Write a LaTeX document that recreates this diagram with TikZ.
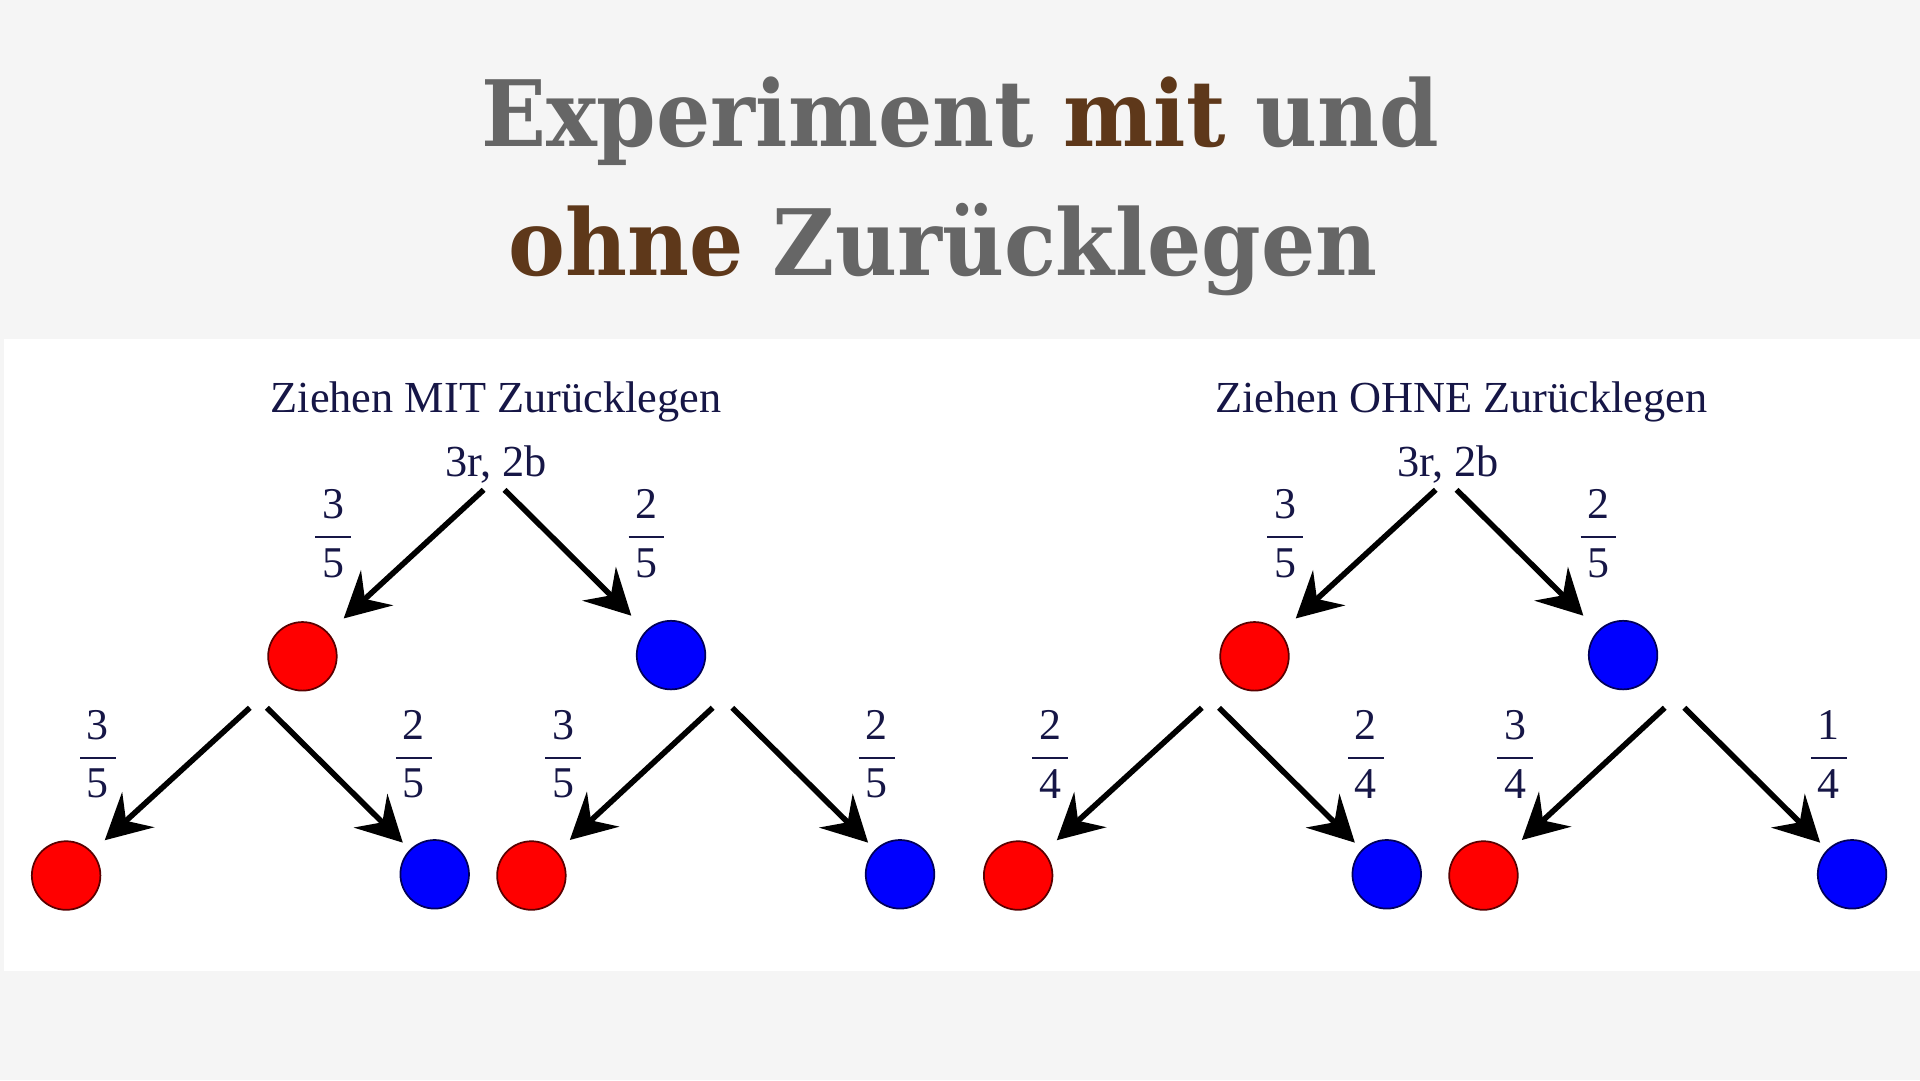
\documentclass[tikz,border=0pt]{standalone}
\usepackage{amsmath}
\usepackage{fontspec}
\setmainfont{Liberation Serif}
\newfontfamily\slabfont[FakeStretch=0.93]{DejaVu Serif}
\usepackage{tikz}
\usetikzlibrary{arrows.meta}
\definecolor{titlegray}{RGB}{102,102,102}
\definecolor{titlebrown}{RGB}{94,56,26}
\definecolor{inknavy}{RGB}{22,22,70}
\definecolor{pagegray}{RGB}{245,245,245}
\tikzstyle{arrow} = [line width=1.3pt,-{Stealth[length=10.5pt,width=11pt,inset=3.8pt]},shorten >=0.14cm]
\tikzstyle{redball} = [circle,draw=red!35!black,fill=red,minimum size=0.56cm,inner sep=0pt,line width=0.4pt]
\tikzstyle{blueball} = [circle,draw=blue!35!black,fill=blue,minimum size=0.56cm,inner sep=0pt,line width=0.4pt]
\tikzstyle{prob} = [text=inknavy,font=\fontsize{10.2}{12}\selectfont,inner sep=0pt]
\tikzstyle{heading} = [text=inknavy,font=\fontsize{10.3}{12}\selectfont,anchor=base,inner sep=0pt]
\tikzstyle{bigtitle} = [text=titlegray,font=\slabfont\bfseries\fontsize{21.3}{26}\selectfont,anchor=base,inner sep=0pt]
\newcommand{\probfrac}[2]{$\displaystyle\frac{\hspace{1.6pt}\text{#1}\hspace{1.6pt}}{\text{#2}}$}

\begin{document}
\begin{tikzpicture}
        % Background and white panel
        \fill[pagegray] (0,0) rectangle (15.68,8.82);
        \fill[white] (0.03,0.89) rectangle (15.68,6.05);
        \useasboundingbox (0,0) rectangle (15.68,8.82);

        % Title
        \node[bigtitle] (title1) at (7.84,7.62) {Experiment \textcolor{titlebrown}{mit} und};
        \node[bigtitle] (title2) at (7.70,6.57) {\textcolor{titlebrown}{ohne} Zurücklegen};

        % Tree: drawing with replacement
        \node[heading] (mhead) at (4.05,5.45) {Ziehen MIT Zurücklegen};
        \node[heading] (mroot) at (4.05,4.93) {3r, 2b};
        \node[redball] (mr) at (2.47,3.46) {};
        \node[blueball] (mb) at (5.48,3.47) {};
        \node[redball] (mrr) at (0.54,1.67) {};
        \node[blueball] (mrb) at (3.55,1.68) {};
        \node[redball] (mbr) at (4.34,1.67) {};
        \node[blueball] (mbb) at (7.35,1.68) {};
        \draw[arrow,shorten >=0.17cm] ([shift={(-0.10,-0.11)}]mroot.base) -- (mr);
        \draw[arrow,shorten >=0.17cm] ([shift={(0.07,-0.11)}]mroot.base) -- (mb);
        \draw[arrow] ([shift={(-0.43,-0.42)}]mr.center) -- (mrr);
        \draw[arrow,shorten >=0.08cm] ([shift={(-0.29,-0.42)}]mr.center) -- (mrb);
        \draw[arrow] ([shift={(0.34,-0.43)}]mb.center) -- (mbr);
        \draw[arrow,shorten >=0.08cm] ([shift={(0.50,-0.43)}]mb.center) -- (mbb);
        \node[prob] (mp1) at (2.72,4.46) {\probfrac{3}{5}};
        \node[prob] (mp2) at (5.28,4.46) {\probfrac{2}{5}};
        \node[prob] (mp3) at (0.80,2.66) {\probfrac{3}{5}};
        \node[prob] (mp4) at (3.38,2.66) {\probfrac{2}{5}};
        \node[prob] (mp5) at (4.60,2.66) {\probfrac{3}{5}};
        \node[prob] (mp6) at (7.16,2.66) {\probfrac{2}{5}};

        % Tree: drawing without replacement
        \begin{scope}[xshift=7.775cm]
        \node[heading] (ohead) at (4.16,5.45) {Ziehen OHNE Zurücklegen};
        \node[heading] (oroot) at (4.05,4.93) {3r, 2b};
        \node[redball] (or) at (2.47,3.46) {};
        \node[blueball] (ob) at (5.48,3.47) {};
        \node[redball] (orr) at (0.54,1.67) {};
        \node[blueball] (orb) at (3.55,1.68) {};
        \node[redball] (obr) at (4.34,1.67) {};
        \node[blueball] (obb) at (7.35,1.68) {};
        \draw[arrow,shorten >=0.17cm] ([shift={(-0.10,-0.11)}]oroot.base) -- (or);
        \draw[arrow,shorten >=0.17cm] ([shift={(0.07,-0.11)}]oroot.base) -- (ob);
        \draw[arrow] ([shift={(-0.43,-0.42)}]or.center) -- (orr);
        \draw[arrow,shorten >=0.08cm] ([shift={(-0.29,-0.42)}]or.center) -- (orb);
        \draw[arrow] ([shift={(0.34,-0.43)}]ob.center) -- (obr);
        \draw[arrow,shorten >=0.08cm] ([shift={(0.50,-0.43)}]ob.center) -- (obb);
        \node[prob] (op1) at (2.72,4.46) {\probfrac{3}{5}};
        \node[prob] (op2) at (5.28,4.46) {\probfrac{2}{5}};
        \node[prob] (op3) at (0.80,2.66) {\probfrac{2}{4}};
        \node[prob] (op4) at (3.38,2.66) {\probfrac{2}{4}};
        \node[prob] (op5) at (4.60,2.66) {\probfrac{3}{4}};
        \node[prob] (op6) at (7.16,2.66) {\probfrac{1}{4}};
        \end{scope}
\end{tikzpicture}
\end{document}
